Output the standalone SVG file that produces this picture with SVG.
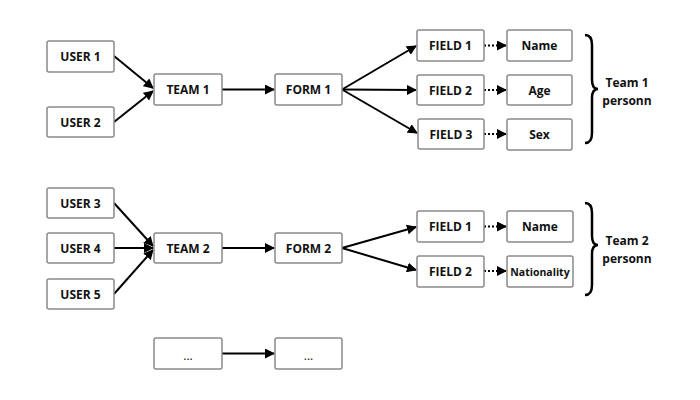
<svg xmlns="http://www.w3.org/2000/svg" width="700" height="400" viewBox="0 0 700 400">
<defs>
<style>
.box{fill:#fff;stroke:#8a8a8a;stroke-width:1.5}
.t{font-family:"Open Sans","DejaVu Sans",sans-serif;font-weight:bold;font-size:12px;fill:#111;text-anchor:middle;dominant-baseline:central}
.c{fill:none;stroke:#000;stroke-width:2}
.d{fill:none;stroke:#000;stroke-width:2;stroke-dasharray:2 2}
.br{fill:none;stroke:#000;stroke-width:2.5}
</style>
<marker id="a" viewBox="0 0 10 10" refX="9" refY="5" markerWidth="5" markerHeight="5" orient="auto" markerUnits="strokeWidth">
<path d="M0,0 L10,5 L0,10 Z" fill="#000"/>
</marker>
</defs>
<rect width="700" height="400" fill="#fff"/>
<g id="connectors">
<path class="c" d="M114,56 L153,88" marker-end="url(#a)"/>
<path class="c" d="M114,122 L153,91" marker-end="url(#a)"/>
<path class="c" d="M222,89.5 L274,89.5" marker-end="url(#a)"/>
<path class="c" d="M342,89.5 L416,46" marker-end="url(#a)"/>
<path class="c" d="M342,89.5 L416,90" marker-end="url(#a)"/>
<path class="c" d="M342,89.5 L417,133" marker-end="url(#a)"/>
<path class="d" d="M484,45.5 L506,45.5" marker-end="url(#a)"/>
<path class="d" d="M484,90 L506,90" marker-end="url(#a)"/>
<path class="d" d="M484,134 L506,134" marker-end="url(#a)"/>
<path class="c" d="M114,203 L153,246" marker-end="url(#a)"/>
<path class="c" d="M114,248 L153,248" marker-end="url(#a)"/>
<path class="c" d="M114,294 L153,250" marker-end="url(#a)"/>
<path class="c" d="M222,248 L274,248" marker-end="url(#a)"/>
<path class="c" d="M342,248 L416,227" marker-end="url(#a)"/>
<path class="c" d="M342,248 L416,270" marker-end="url(#a)"/>
<path class="d" d="M484,226.5 L506,226.5" marker-end="url(#a)"/>
<path class="d" d="M484,271 L506,271" marker-end="url(#a)"/>
<path class="c" d="M222,353.5 L274,353.5" marker-end="url(#a)"/>
</g>
<g id="user1"><rect class="box" x="47" y="41" width="67" height="31" rx="2"/><text class="t" x="80.5" y="56.5">USER 1</text></g>
<g id="user2"><rect class="box" x="47" y="107" width="67" height="30" rx="2"/><text class="t" x="80.5" y="122">USER 2</text></g>
<g id="team1"><rect class="box" x="154" y="74" width="68" height="31" rx="2"/><text class="t" x="188" y="89.5">TEAM 1</text></g>
<g id="form1"><rect class="box" x="275" y="74" width="67" height="31" rx="2"/><text class="t" x="308.5" y="89.5">FORM 1</text></g>
<g id="field1a"><rect class="box" x="417" y="30" width="67" height="31" rx="2"/><text class="t" x="450.5" y="45.5">FIELD 1</text></g>
<g id="field2a"><rect class="box" x="417" y="75" width="67" height="30" rx="2"/><text class="t" x="450.5" y="90">FIELD 2</text></g>
<g id="field3a"><rect class="box" x="418" y="119" width="66" height="30" rx="2"/><text class="t" x="451" y="134">FIELD 3</text></g>
<g id="name1"><rect class="box" x="507" y="30" width="65" height="31" rx="2"/><text class="t" x="539.5" y="45.5">Name</text></g>
<g id="age"><rect class="box" x="507" y="75" width="65" height="30" rx="2"/><text class="t" x="539.5" y="90">Age</text></g>
<g id="sex"><rect class="box" x="507" y="119" width="65" height="31" rx="2"/><text class="t" x="539.5" y="134.5">Sex</text></g>
<g id="brace1"><path class="br" d="M585,35 Q592,35 592,45 L592,80 Q592,89 598,89 Q592,89 592,98 L592,133 Q592,143 585,143"/>
<text class="t" x="627" y="82">Team 1</text><text class="t" x="627" y="100">personn</text></g>
<g id="user3"><rect class="box" x="47" y="188" width="67" height="30" rx="2"/><text class="t" x="80.5" y="203">USER 3</text></g>
<g id="user4"><rect class="box" x="47" y="233" width="67" height="30" rx="2"/><text class="t" x="80.5" y="248">USER 4</text></g>
<g id="user5"><rect class="box" x="47" y="279" width="67" height="30" rx="2"/><text class="t" x="80.5" y="294">USER 5</text></g>
<g id="team2"><rect class="box" x="154" y="233" width="68" height="30" rx="2"/><text class="t" x="188" y="248">TEAM 2</text></g>
<g id="form2"><rect class="box" x="275" y="233" width="67" height="30" rx="2"/><text class="t" x="308.5" y="248">FORM 2</text></g>
<g id="field1b"><rect class="box" x="417" y="211" width="67" height="31" rx="2"/><text class="t" x="450.5" y="226.5">FIELD 1</text></g>
<g id="field2b"><rect class="box" x="417" y="256" width="67" height="31" rx="2"/><text class="t" x="450.5" y="271.5">FIELD 2</text></g>
<g id="name2"><rect class="box" x="507" y="211" width="66" height="31" rx="2"/><text class="t" x="540" y="226.5">Name</text></g>
<g id="nationality"><rect class="box" x="507" y="256" width="66" height="31" rx="2"/><text class="t" x="540" y="271.5" style="font-size:10.5px">Nationality</text></g>
<g id="brace2"><path class="br" d="M585,203 Q592,203 592,213 L592,236 Q592,245 598,245 Q592,245 592,254 L592,285 Q592,295 585,295"/>
<text class="t" x="627" y="240">Team 2</text><text class="t" x="627" y="258">personn</text></g>
<g id="more1"><rect class="box" x="154" y="338" width="68" height="31" rx="2"/><text class="t" x="188" y="355" style="font-weight:normal">...</text></g>
<g id="more2"><rect class="box" x="275" y="338" width="67" height="31" rx="2"/><text class="t" x="308.5" y="355" style="font-weight:normal">...</text></g>
</svg>
